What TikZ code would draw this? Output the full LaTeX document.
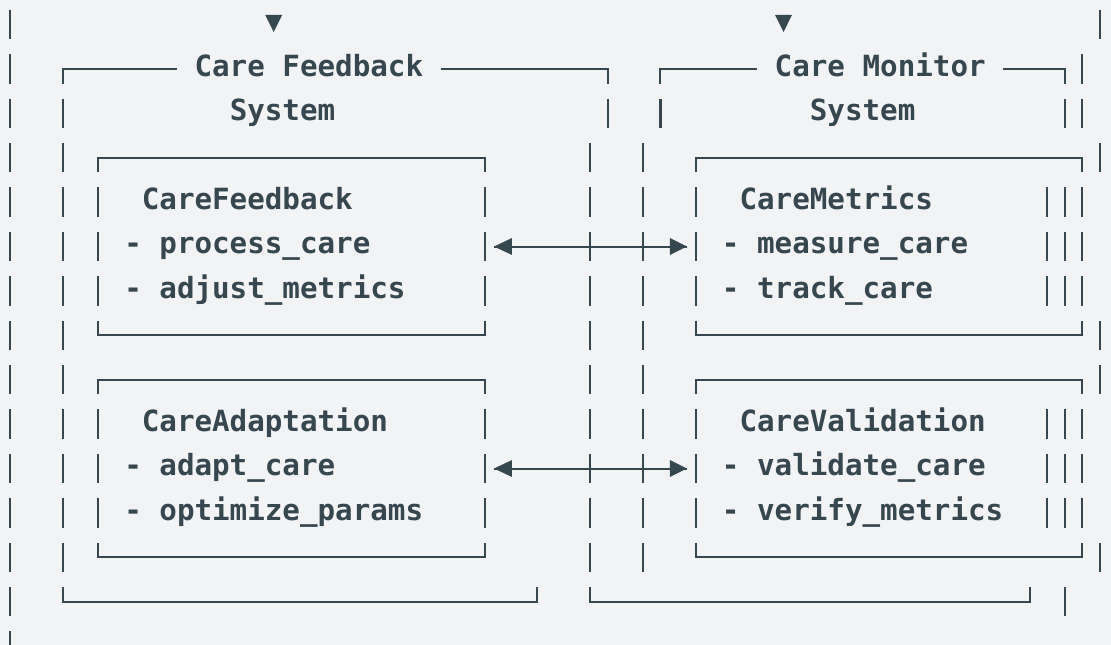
\documentclass[tikz,border=0pt]{standalone}
\usepackage{fontspec}
\newfontfamily\asciimono{DejaVu Sans Mono}
\definecolor{bgc}{RGB}{241,243,245}
\definecolor{ink}{RGB}{55,71,79}
\begin{document}
\begin{tikzpicture}[x=17.58pt,y=-44.4pt,
  ln/.style={draw=ink,line width=2pt},
  bar/.style={draw=ink,line width=2.2pt},
  txt/.style={anchor=base west,inner sep=0pt,outer sep=0pt,text=ink,
     font=\asciimono\bfseries\fontsize{29.2}{30}\selectfont},
  tri/.style={fill=ink}]
\path[use as bounding box,fill=bgc] (-0.5688,-0.5518) rectangle (62.6285,13.9752);

% vertical bars, row by row
\foreach \r/\cs in {0/{0,62},1/{0,61},2/{0,3,34,37,60,61},
  3/{0,3,33,36,62},4/{0,3,5,27,33,36,39,59,60,61},5/{0,3,5,27,33,36,39,59,60,61},
  6/{0,3,5,27,33,36,39,59,60,61},7/{0,3,33,36,62},8/{0,3,33,36,62},
  9/{0,3,5,27,33,36,39,59,60,61},10/{0,3,5,27,33,36,39,59,60,61},
  11/{0,3,5,27,33,36,39,59,60,61},12/{0,3,33,36,62},13/{0,60},14/{0}}{
  \foreach \c in \cs {\draw[bar] (\c,\r-0.33) -- (\c,\r+0.33);}
}

% down triangles in row 0
\fill[tri] (14.52,-0.214) -- (15.48,-0.214) -- (15,0.17) -- cycle;
\fill[tri] (43.52,-0.214) -- (44.48,-0.214) -- (44,0.17) -- cycle;

% system frames, row 1 headers
\node[txt] (fbtitle) at (10.5,1.165) {Care Feedback};
\node[txt] (fbsys) at (12.5,2.165) {System};
\node[txt] (mntitle) at (43.5,1.165) {Care Monitor};
\node[txt] (mnsys) at (45.5,2.165) {System};
\draw[ln] (3,1.33) -- (3,1) -- (9.5,1);
\draw[ln] (24.5,1) -- (34,1) -- (34,1.33);
\draw[ln] (37,1.33) -- (37,1) -- (42.5,1);
\draw[ln] (56.5,1) -- (60,1) -- (60,1.33);

% system frames, bottoms
\draw[ln] (3,12.67) -- (3,13) -- (30,13) -- (30,12.67);
\draw[ln] (33,12.67) -- (33,13) -- (58,13) -- (58,12.67);

% inner boxes: tops and bottoms
\foreach \t in {3,8}{
  \draw[ln] (5,\t+0.33) -- (5,\t) -- (27,\t) -- (27,\t+0.33);
  \draw[ln] (39,\t+0.33) -- (39,\t) -- (61,\t) -- (61,\t+0.33);
  \draw[ln] (5,\t+3.67) -- (5,\t+4) -- (27,\t+4) -- (27,\t+3.67);
  \draw[ln] (39,\t+3.67) -- (39,\t+4) -- (61,\t+4) -- (61,\t+3.67);
}

% box contents
\node[txt] (cfb) at (7.5,4.165) {CareFeedback};
\node[txt] (cfb1) at (6.5,5.165) {- process\_care};
\node[txt] (cfb2) at (6.5,6.165) {- adjust\_metrics};
\node[txt] (cad) at (7.5,9.165) {CareAdaptation};
\node[txt] (cad1) at (6.5,10.165) {- adapt\_care};
\node[txt] (cad2) at (6.5,11.165) {- optimize\_params};
\node[txt] (cme) at (41.5,4.165) {CareMetrics};
\node[txt] (cme1) at (40.5,5.165) {- measure\_care};
\node[txt] (cme2) at (40.5,6.165) {- track\_care};
\node[txt] (cva) at (41.5,9.165) {CareValidation};
\node[txt] (cva1) at (40.5,10.165) {- validate\_care};
\node[txt] (cva2) at (40.5,11.165) {- verify\_metrics};

% connectors (double-headed arrows)
\foreach \r/\n in {5/a,10/b}{
  \coordinate (L\n) at (27.53,\r);
  \coordinate (R\n) at (38.51,\r);
  \draw[ln] (L\n) -- (R\n);
  \fill[tri] (L\n) -- ++(1.02,-0.19) -- ++(0,0.38) -- cycle;
  \fill[tri] (R\n) -- ++(-0.97,-0.19) -- ++(0,0.38) -- cycle;
}
\end{tikzpicture}
\end{document}
